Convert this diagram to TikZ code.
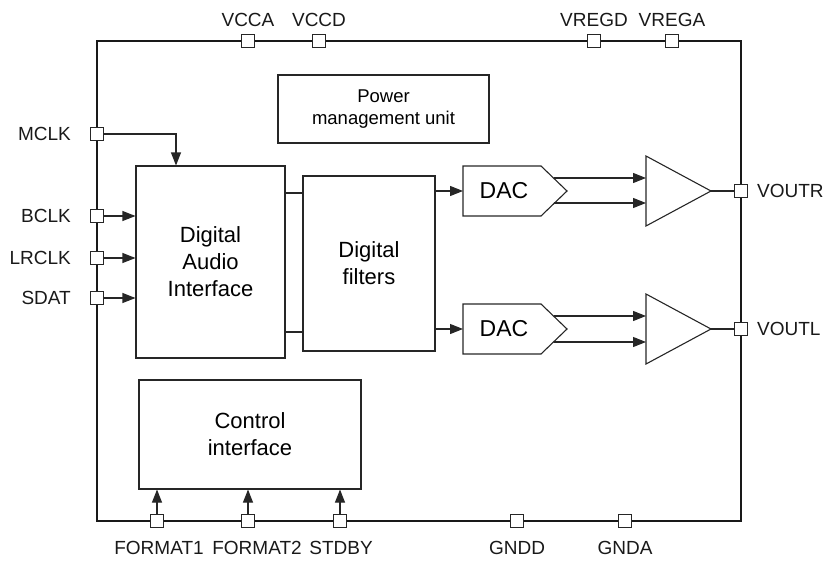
\documentclass[tikz,border=0pt]{standalone}
\usepackage{fontspec}
\setmainfont{Liberation Sans}
\usetikzlibrary{arrows.meta}
\begin{document}
\begin{tikzpicture}[x=1pt,y=-1pt,
  blk/.style={draw=black!85, line width=1.1pt, fill=white, inner sep=0pt, align=center},
  pin/.style={draw=black!85, fill=white, minimum size=13pt, inner sep=0pt, line width=1.1pt},
  wire/.style={draw=black!85, line width=1.1pt},
  arr/.style={wire, -{Triangle[length=13pt,width=10pt]}},
  lbl/.style={font=\fontsize{19}{21}\selectfont, inner sep=0pt, text=black!90},
  big/.style={font=\fontsize{22}{27}\selectfont},
  mid/.style={font=\fontsize{18.5}{22}\selectfont}]
\useasboundingbox (0,0) rectangle (830,560);
% outer chip
\draw[draw=black!90, line width=2.5pt] (97,41) rectangle (741,521);
% blocks
\node[blk, big, minimum width=149pt, minimum height=192pt] (dai) at (210.5,262) {Digital\\Audio\\Interface};
\node[blk, big, minimum width=132pt, minimum height=175pt] (filt) at (369,263.5) {Digital\\filters};
\node[blk, mid, minimum width=211pt, minimum height=68pt] (pmu) at (383.5,109) {Power\\management unit};
\node[blk, big, minimum width=222pt, minimum height=109pt] (ctl) at (250,434.5) {Control\\interface};
% DACs
\draw[wire] (463,166) -- (541,166) -- (567,191) -- (541,216) -- (463,216) -- cycle;
\node[big, inner sep=0pt, font=\fontsize{23}{27}\selectfont] (dacR) at (504,191) {DAC};
\coordinate (dacRin) at (463,191);
\coordinate (dacRo1) at (553.5,178);
\coordinate (dacRo2) at (553.5,203);
\draw[wire] (463,304) -- (541,304) -- (567,329) -- (541,354) -- (463,354) -- cycle;
\node[big, inner sep=0pt, font=\fontsize{23}{27}\selectfont] (dacL) at (504,329) {DAC};
\coordinate (dacLin) at (463,329);
\coordinate (dacLo1) at (553.5,316);
\coordinate (dacLo2) at (553.5,342);
% amplifiers
\draw[wire] (646,156) -- (711,191) -- (646,226) -- cycle;
\coordinate (ampRtip) at (711,191);
\coordinate (ampRi1) at (646,178);
\coordinate (ampRi2) at (646,203);
\draw[wire] (646,294) -- (711,329) -- (646,364) -- cycle;
\coordinate (ampLtip) at (711,329);
\coordinate (ampLi1) at (646,316);
\coordinate (ampLi2) at (646,342);
% pins
\node[pin] (vcca) at (248,41) {};
\node[pin] (vccd) at (319,41) {};
\node[pin] (vregd) at (594,41) {};
\node[pin] (vrega) at (672,41) {};
\node[pin] (mclk) at (97,134) {};
\node[pin] (bclk) at (97,216) {};
\node[pin] (lrclk) at (97,258) {};
\node[pin] (sdat) at (97,298) {};
\node[pin] (voutr) at (741,191) {};
\node[pin] (voutl) at (741,329) {};
\node[pin] (fmt1) at (157,521) {};
\node[pin] (fmt2) at (248,521) {};
\node[pin] (stdby) at (340,521) {};
\node[pin] (gndd) at (517,521) {};
\node[pin] (gnda) at (625,521) {};
% pin labels
\node[lbl] (tvcca) at (248,20) {VCCA};
\node[lbl] (tvccd) at (319,20) {VCCD};
\node[lbl] (tvregd) at (594,20) {VREGD};
\node[lbl] (tvrega) at (672,20) {VREGA};
\node[lbl, anchor=east] (tmclk) at (71,134) {MCLK};
\node[lbl, anchor=east] (tbclk) at (71,216) {BCLK};
\node[lbl, anchor=east] (tlrclk) at (71,258) {LRCLK};
\node[lbl, anchor=east] (tsdat) at (71,298) {SDAT};
\node[lbl, anchor=west] (tvoutr) at (757,191) {VOUTR};
\node[lbl, anchor=west] (tvoutl) at (757,329) {VOUTL};
\node[lbl] (tfmt1) at (159,548) {FORMAT1};
\node[lbl] (tfmt2) at (257,548) {FORMAT2};
\node[lbl] (tstdby) at (341,548) {STDBY};
\node[lbl] (tgndd) at (517,548) {GNDD};
\node[lbl] (tgnda) at (625,548) {GNDA};
% connectors
\draw[arr] (mclk.east) -| ([xshift=-34.5pt]dai.north);
\draw[arr] (bclk.east) -- (bclk.east -| dai.west);
\draw[arr] (lrclk.east) -- (lrclk.east -| dai.west);
\draw[arr] (sdat.east) -- (sdat.east -| dai.west);
\draw[wire] (dai.east |- 0,193) -- (filt.west |- 0,193);
\draw[wire] (dai.east |- 0,332) -- (filt.west |- 0,332);
\draw[arr] (filt.east |- dacRin) -- (dacRin);
\draw[arr] (filt.east |- dacLin) -- (dacLin);
\draw[arr] (dacRo1) -- (ampRi1);
\draw[arr] (dacRo2) -- (ampRi2);
\draw[arr] (dacLo1) -- (ampLi1);
\draw[arr] (dacLo2) -- (ampLi2);
\draw[wire] (ampRtip) -- (voutr.west);
\draw[wire] (ampLtip) -- (voutl.west);
\draw[arr] (fmt1.north) -- (fmt1.north |- ctl.south);
\draw[arr] (fmt2.north) -- (fmt2.north |- ctl.south);
\draw[arr] (stdby.north) -- (stdby.north |- ctl.south);
\end{tikzpicture}
\end{document}
